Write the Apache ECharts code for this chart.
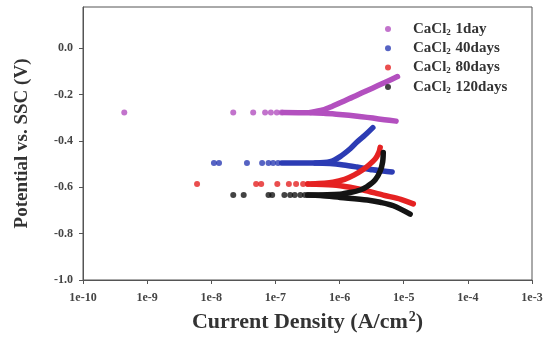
<!DOCTYPE html>
<html><head><meta charset="utf-8">
<script src="https://cdn.jsdelivr.net/npm/echarts@6/dist/echarts.min.js"></script>
<style>html,body{margin:0;padding:0;background:#fff}#c{width:551px;height:342px}</style>
</head><body><div id="c"></div>
<script>
// Legend labels
const seriesNames = ['CaCl2 1day', 'CaCl2 40days', 'CaCl2 80days', 'CaCl2 120days'];
const nameSuffix = ['1day', '40days', '80days', '120days'];
const colors = ['#b350bf', '#2c3cb4', '#e52222', '#141414'];

// Points: [current density (A/cm2), potential (V)]
// sparse points near the corrosion potential
const day1Dots = [[4.4e-10,-0.278],[2.2e-8,-0.278],[4.5e-8,-0.278],[6.9e-8,-0.278],[8.5e-8,-0.278],[1.05e-7,-0.278],[1.25e-7,-0.278]];
const day40Dots = [[1.1e-8,-0.496],[1.32e-8,-0.496],[3.6e-8,-0.496],[6.2e-8,-0.496],[7.8e-8,-0.496],[9.2e-8,-0.496],[1.1e-7,-0.496]];
const day80Dots = [[6.0e-9,-0.586],[5.0e-8,-0.586],[6.0e-8,-0.586],[1.07e-7,-0.586],[1.62e-7,-0.586],[2.1e-7,-0.586],[2.7e-7,-0.586],[3.2e-7,-0.586]];
const day120Dots = [[2.2e-8,-0.634],[3.2e-8,-0.634],[7.8e-8,-0.634],[8.9e-8,-0.634],[1.38e-7,-0.634],[1.7e-7,-0.634],[2.0e-7,-0.634],[2.45e-7,-0.634],[2.9e-7,-0.634]];

// dense cathodic branches (from Ecorr outward)
const day1Cathodic = [[1.3e-7,-0.278],[3.5e-7,-0.279],[5.6e-7,-0.281],[8.9e-7,-0.285],[1.4e-6,-0.290],[2.2e-6,-0.296],[3.3e-6,-0.302],[5.0e-6,-0.309],[7.6e-6,-0.315]];
const day40Cathodic = [[1.25e-7,-0.496],[4.2e-7,-0.496],[7.1e-7,-0.498],[1.15e-6,-0.504],[1.86e-6,-0.513],[3.3e-6,-0.525],[4.8e-6,-0.530],[6.6e-6,-0.534]];
const day80Cathodic = [[3.2e-7,-0.586],[7.9e-7,-0.590],[1.46e-6,-0.600],[2.35e-6,-0.612],[4.8e-6,-0.634],[9.0e-6,-0.652],[1.41e-5,-0.672]];
const day120Cathodic = [[3.2e-7,-0.634],[5.0e-7,-0.636],[1.02e-6,-0.644],[2.7e-6,-0.655],[4.3e-6,-0.665],[6.9e-6,-0.680],[1.26e-5,-0.716]];
// dense anodic branches (from Ecorr outward)
const day1Anodic = [[3.5e-7,-0.278],[5.5e-7,-0.267],[7.6e-7,-0.252],[1.0e-6,-0.237],[1.4e-6,-0.219],[1.86e-6,-0.203],[2.7e-6,-0.183],[3.9e-6,-0.163],[5.6e-6,-0.143],[8.0e-6,-0.123]];
const day40Anodic = [[4.2e-7,-0.496],[7.1e-7,-0.490],[1.02e-6,-0.468],[1.48e-6,-0.433],[1.87e-6,-0.405],[2.5e-6,-0.375],[3.3e-6,-0.343]];
const day80Anodic = [[3.7e-7,-0.586],[7.9e-7,-0.578],[1.2e-6,-0.566],[1.7e-6,-0.547],[2.3e-6,-0.525],[2.9e-6,-0.503],[3.6e-6,-0.478],[4.1e-6,-0.450],[4.3e-6,-0.428]];
const day120Anodic = [[3.2e-7,-0.634],[1.02e-6,-0.630],[1.46e-6,-0.623],[2.1e-6,-0.612],[2.66e-6,-0.598],[3.6e-6,-0.568],[4.3e-6,-0.530],[4.7e-6,-0.490],[4.8e-6,-0.450]];

const dots = [day1Dots, day40Dots, day80Dots, day120Dots];
const branches = [[day1Cathodic, day1Anodic], [day40Cathodic, day40Anodic], [day80Cathodic, day80Anodic], [day120Cathodic, day120Anodic]];

const serif = 'Liberation Serif';
const series = [];
branches.forEach((pair, i) => {
  pair.forEach((c, k) => {
    series.push({ name: seriesNames[i] + (k ? ' anodic' : ' cathodic'), type: 'line', data: c, showSymbol: false, smooth: 0.3,
      lineStyle: { color: colors[i], width: 5.5, cap: 'round', join: 'round' }, silent: true, animation: false, z: 2 + i });
  });
});
dots.forEach((d, i) => {
  series.push({ name: seriesNames[i], type: 'scatter', data: d, symbol: 'circle', symbolSize: 6,
    itemStyle: { color: colors[i] }, animation: false, z: 2 + i });
});

const chart = echarts.init(document.getElementById('c'), null, { renderer: 'canvas' });
chart.setOption({
  animation: false,
  backgroundColor: '#fff',
  grid: { left: 83, right: 19, top: 7, bottom: 62, show: true, borderColor: '#555', borderWidth: 1 },
  legend: {
    data: seriesNames, orient: 'vertical', left: 380, top: 16, itemWidth: 6, itemHeight: 6, itemGap: 3.3,
    icon: 'circle',
    formatter: n => '{a|CaCl}{s|2}{a| ' + nameSuffix[seriesNames.indexOf(n)] + '}',
    textStyle: { padding: [0, 0, 0, 17], rich: {
      a: { fontFamily: serif, fontWeight: 'bold', fontSize: 15, color: '#333', lineHeight: 16 },
      s: { fontFamily: serif, fontWeight: 'bold', fontSize: 9, color: '#333', verticalAlign: 'bottom', lineHeight: 16, padding: [7, 1, 0, 0] } } }
  },
  xAxis: {
    type: 'log', logBase: 10, min: 1e-10, max: 1e-3,
    name: '{t|Current Density (A/cm}{u|2}{t|)}', nameLocation: 'middle', nameGap: 30,
    nameTextStyle: { rich: {
      t: { fontFamily: serif, fontWeight: 'bold', fontSize: 22, color: '#333', lineHeight: 24 },
      u: { fontFamily: serif, fontWeight: 'bold', fontSize: 14, color: '#333', verticalAlign: 'top', lineHeight: 24, padding: [0, 0, 9, 1] } } },
    axisLine: { onZero: false, lineStyle: { color: '#555' } },
    axisTick: { lineStyle: { color: '#555' }, length: 4 },
    minorTick: { show: false },
    splitLine: { show: false },
    axisLabel: { formatter: v => '1e' + Math.round(Math.log10(v)), fontFamily: serif, fontWeight: 'bold', fontSize: 12, color: '#444', margin: 12 }
  },
  yAxis: {
    type: 'value', min: -1.0, max: 0.177, interval: 0.2,
    name: 'Potential vs. SSC (V)', nameLocation: 'middle', nameRotate: 90, nameGap: 51,
    nameTextStyle: { fontFamily: serif, fontWeight: 'bold', fontSize: 19, color: '#333' },
    axisLine: { show: true, onZero: false, lineStyle: { color: '#555' } },
    axisTick: { show: true, lineStyle: { color: '#555' }, length: 4 },
    splitLine: { show: false },
    axisLabel: { showMaxLabel: false, formatter: v => (Math.abs(v) < 1e-9 ? '0.0' : v.toFixed(1)), fontFamily: serif, fontWeight: 'bold', fontSize: 12, color: '#444', margin: 10 }
  },
  series: series
});
</script></body></html>
